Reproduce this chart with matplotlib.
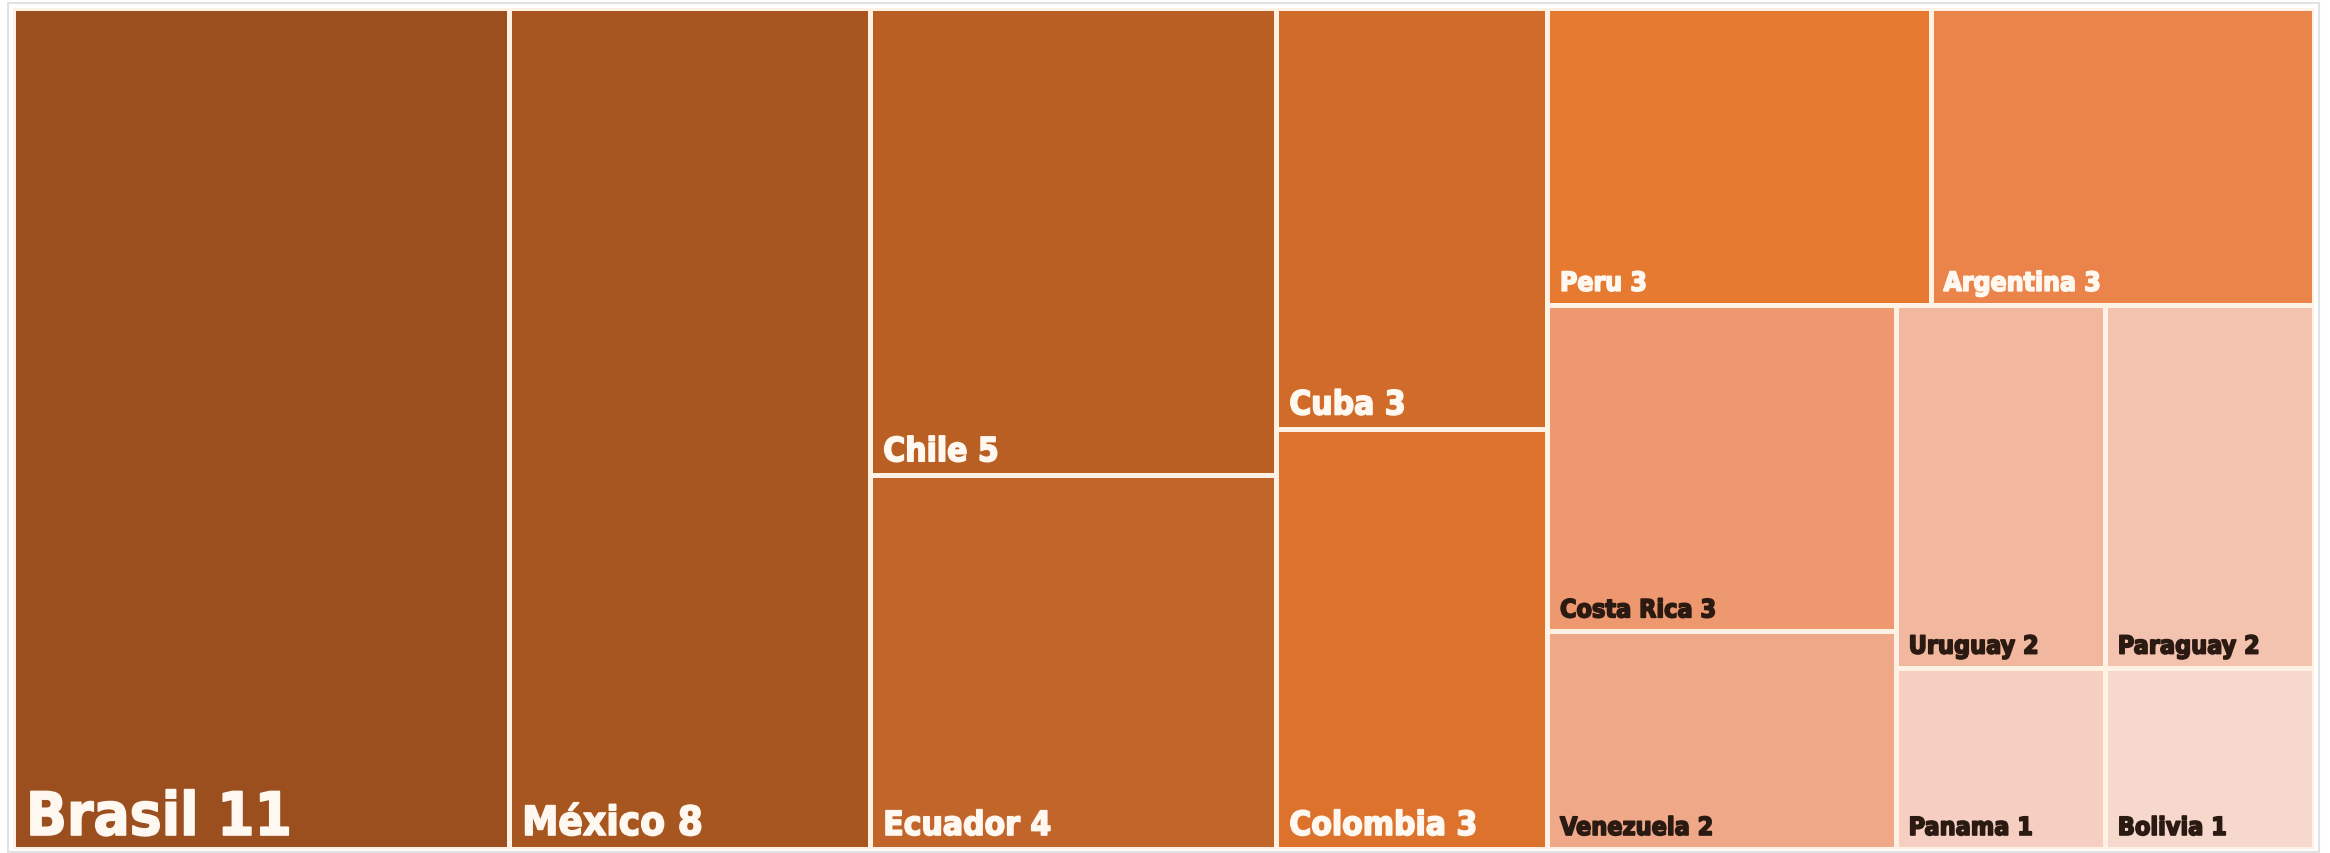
import matplotlib
matplotlib.use("Agg")
import matplotlib.pyplot as plt
from matplotlib.patches import Rectangle
import matplotlib.patheffects as pe

countries = ['Brasil', 'México', 'Chile', 'Ecuador', 'Cuba', 'Colombia', 'Peru',
             'Argentina', 'Costa Rica', 'Venezuela', 'Uruguay', 'Paraguay',
             'Panama', 'Bolivia']
counts = [11, 8, 5, 4, 3, 3, 3, 3, 3, 2, 2, 2, 1, 1]
colors = ['#9B4F1E', '#A8561F', '#B95F24', '#C1652A', '#D06B2A', '#DC722C',
          '#E57A30', '#EA844A', '#EE9870', '#EFA989', '#F1B79F', '#F4C3AF',
          '#F6CFC2', '#F7D8CD']
label_sizes = [43, 29, 24, 24, 24, 24, 19, 19, 18, 18, 18, 18, 18, 18]

# nesting of the tiles (alternating x / y splits), by index into the lists above
layout = [0, 1, [2, 3], [4, 5], [[6, 7], [[8, 9], [[10, 11], [12, 13]]]]]


def total(node):
    if isinstance(node, list):
        return sum(total(n) for n in node)
    return counts[node]


def place(node, x, y, w, h, horiz, out):
    if not isinstance(node, list):
        out[node] = (x, y, w, h)
        return
    s = total(node)
    if horiz:
        pos = x
        for n in node:
            nw = w * total(n) / s
            place(n, pos, y, nw, h, False, out)
            pos += nw
    else:
        # from the top down
        pos = y + h
        for n in node:
            nh = h * total(n) / s
            place(n, x, pos - nh, w, nh, True, out)
            pos -= nh


rects = {}
place(layout, 0, 0, 1, 1, True, rects)

W, H = 2330, 854
fig = plt.figure(figsize=(W / 100, H / 100), dpi=100)
fig.patch.set_facecolor('white')
left, top, right, bottom = 13, 9, 2314, 850
ax = fig.add_axes([left / W, 1 - bottom / H, (right - left) / W, (bottom - top) / H])
ax.set_xlim(0, 1)
ax.set_ylim(0, 1)
ax.axis('off')

px_x = 1 / (right - left)
px_y = 1 / (bottom - top)

for i, name in enumerate(countries):
    x, y, w, h = rects[i]
    ax.add_patch(Rectangle((x, y), w, h, facecolor=colors[i],
                           edgecolor='#FFF1E4', linewidth=3.6))
    txtcol = '#FFF8F0' if i < 8 else '#2B1A12'
    ax.text(x + 13 * px_x, y + 14 * px_y, f'{name} {counts[i]}',
            color=txtcol, fontsize=label_sizes[i], fontweight='bold',
            family='DejaVu Sans', fontstretch='condensed',
            ha='left', va='baseline',
            path_effects=[pe.withStroke(linewidth=1.2, foreground=txtcol)])

# light frame around the chart
fig.patches.append(Rectangle((8 / W, 1 - 853 / H), (2319 - 8) / W, (853 - 4) / H,
                             transform=fig.transFigure, fill=False,
                             edgecolor='#E2E2E2', linewidth=1.5))

fig.savefig('out.png', dpi=100)
